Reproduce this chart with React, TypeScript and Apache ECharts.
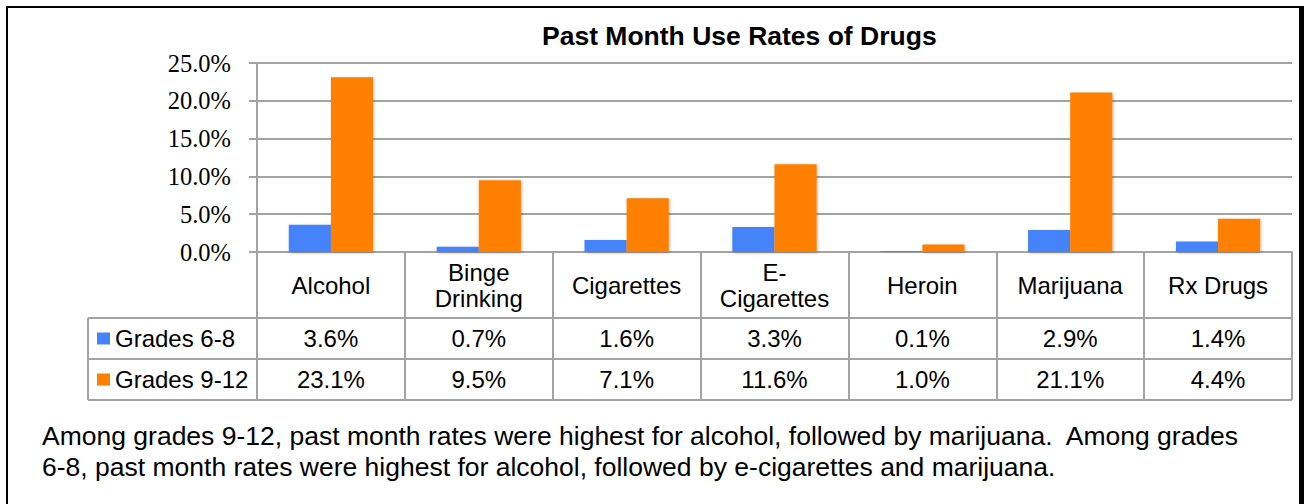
import React, { useEffect, useRef } from 'react';
import * as echarts from 'echarts';

const chartTitle = 'Past Month Use Rates of Drugs';
const categories = ['Alcohol', 'Binge\nDrinking', 'Cigarettes', 'E-\nCigarettes', 'Heroin', 'Marijuana', 'Rx Drugs'];
const seriesNames = ['Grades 6-8', 'Grades 9-12'];
const grades68 = [3.6, 0.7, 1.6, 3.3, 0.1, 2.9, 1.4];
const grades912 = [23.1, 9.5, 7.1, 11.6, 1.0, 21.1, 4.4];
const yMin = 0;
const yMax = 25;
const yInterval = 5;
const noteText =
  'Among grades 9-12, past month rates were highest for alcohol, followed by marijuana.  Among grades\n6-8, past month rates were highest for alcohol, followed by e-cigarettes and marijuana.';

// layout constants
const W = 1304;
const H = 504;
const GRID_LEFT = 257;
const GRID_RIGHT_X = 1292;
const GRID_TOP = 63;
const AXIS_Y = 252;
const ROW1 = 318;
const ROW2 = 359;
const ROW3 = 400;
const TABLE_LEFT = 88;

const SANS = "'Liberation Sans', Arial, sans-serif";
const SERIF = "'Liberation Serif', 'Times New Roman', serif";
const LINE = '#a3a3a3';
const BLUE = '#4483fb';
const ORANGE = '#ff7f00';

const fmt = (v: number) => v.toFixed(1) + '%';

export default function App() {
  const ref = useRef<HTMLDivElement>(null);
  useEffect(() => {
    if (!ref.current) return;
    const chart = echarts.init(ref.current, null, { renderer: 'svg', width: W, height: H });
    const valueRowAxis = (vals: number[], center: number) => ({
      type: 'category',
      gridIndex: 0,
      position: 'bottom',
      data: categories,
      axisLine: { show: false },
      axisTick: { show: false },
      splitLine: { show: false },
      axisLabel: {
        interval: 0,
        margin: center - AXIS_Y,
        verticalAlign: 'middle',
        fontSize: 24,
        fontFamily: SANS,
        color: '#000',
        formatter: (_v: string, i: number) => fmt(vals[i]),
      },
    });
    const hLine = (y: number) => ({
      type: 'line',
      shape: { x1: TABLE_LEFT, y1: y, x2: GRID_RIGHT_X, y2: y },
      style: { stroke: LINE, lineWidth: 2 },
      z: 10,
    });
    const legendFor = (name: string, center: number) => ({
      data: [name],
      left: 97,
      top: center - 12,
      padding: 0,
      itemWidth: 13,
      itemHeight: 12,
      itemGap: 0,
      icon: 'rect',
      selectedMode: false,
      textStyle: { fontSize: 24, fontFamily: SANS, color: '#000', lineHeight: 24, padding: [0, 0, 0, 0] },
    });
    chart.setOption({
      animation: false,
      backgroundColor: '#fff',
      title: {
        text: chartTitle,
        left: 537,
        top: 17,
        textStyle: { fontSize: 26.5, fontWeight: 'bold', fontFamily: SANS, color: '#000' },
      },
      legend: [
        legendFor(seriesNames[0], (ROW1 + ROW2) / 2),
        legendFor(seriesNames[1], (ROW2 + ROW3) / 2),
      ],
      grid: {
        left: GRID_LEFT,
        right: W - GRID_RIGHT_X,
        top: GRID_TOP,
        bottom: H - AXIS_Y,
        containLabel: false,
      },
      xAxis: [
        {
          type: 'category',
          data: categories,
          position: 'bottom',
          axisLine: { show: true, lineStyle: { color: LINE, width: 2 } },
          axisTick: {
            show: true,
            interval: 0,
            length: ROW3 - AXIS_Y,
            lineStyle: { color: LINE, width: 2 },
          },
          axisLabel: {
            interval: 0,
            margin: (AXIS_Y + ROW1) / 2 - AXIS_Y,
            verticalAlign: 'middle',
            fontSize: 24,
            lineHeight: 26,
            fontFamily: SANS,
            color: '#000',
            align: 'center',
          },
        },
        valueRowAxis(grades68, (ROW1 + ROW2) / 2),
        valueRowAxis(grades912, (ROW2 + ROW3) / 2),
      ],
      yAxis: {
        type: 'value',
        min: yMin,
        max: yMax,
        interval: yInterval,
        axisLine: { show: true, lineStyle: { color: LINE, width: 2 } },
        axisTick: { show: true, length: 8, lineStyle: { color: LINE, width: 2 } },
        splitLine: { show: true, lineStyle: { color: LINE, width: 2 } },
        axisLabel: {
          margin: 26,
          fontSize: 24.5,
          fontFamily: SERIF,
          color: '#000',
          formatter: (v: number) => fmt(v),
        },
      },
      series: [
        {
          name: seriesNames[0],
          type: 'bar',
          data: grades68,
          barGap: '0%',
          barCategoryGap: '43%',
          itemStyle: {
            color: BLUE,
            shadowBlur: 3,
            shadowColor: 'rgba(0,0,0,0.25)',
            shadowOffsetX: 1,
            shadowOffsetY: 1,
          },
        },
        {
          name: seriesNames[1],
          type: 'bar',
          data: grades912,
          barGap: '0%',
          barCategoryGap: '43%',
          itemStyle: {
            color: ORANGE,
            shadowBlur: 3,
            shadowColor: 'rgba(0,0,0,0.25)',
            shadowOffsetX: 1,
            shadowOffsetY: 1,
          },
        },
      ],
      graphic: [
        hLine(ROW1),
        hLine(ROW2),
        hLine(ROW3),
        {
          type: 'line',
          shape: { x1: TABLE_LEFT, y1: ROW1, x2: TABLE_LEFT, y2: ROW3 },
          style: { stroke: LINE, lineWidth: 2 },
          z: 10,
        },
        {
          type: 'text',
          x: 42,
          y: 421,
          style: {
            text: noteText,
            fontSize: 26.5,
            lineHeight: 30.5,
            fontFamily: SANS,
            fill: '#000',
            textAlign: 'left',
            textVerticalAlign: 'top',
          },
        },
        {
          type: 'rect',
          shape: { x: 7, y: 7, width: 1293, height: 600 },
          style: { stroke: '#000', lineWidth: 2, fill: 'none' },
          z: 20,
        },
        {
          type: 'line',
          shape: { x1: 1302.5, y1: 6, x2: 1302.5, y2: 504 },
          style: { stroke: '#000', lineWidth: 3 },
          z: 20,
        },
      ],
    });
    return () => chart.dispose();
  }, []);
  return <div ref={ref} style={{ position: 'absolute', left: 0, top: 0, width: W, height: H }} />;
}
